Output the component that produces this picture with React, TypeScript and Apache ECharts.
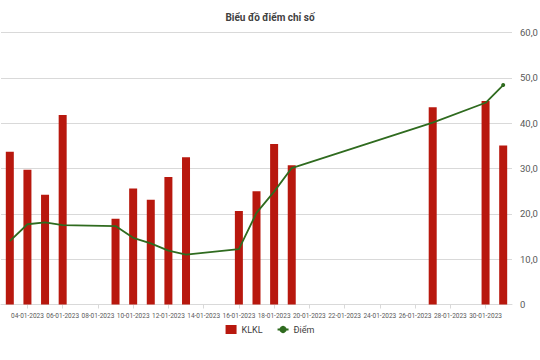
import React, { useEffect, useRef } from "react";
import * as echarts from "echarts";

const categories = [
  "03-01-2023", "04-01-2023", "05-01-2023", "06-01-2023", "07-01-2023", "08-01-2023",
  "09-01-2023", "10-01-2023", "11-01-2023", "12-01-2023", "13-01-2023", "14-01-2023",
  "15-01-2023", "16-01-2023", "17-01-2023", "18-01-2023", "19-01-2023", "20-01-2023",
  "21-01-2023", "22-01-2023", "23-01-2023", "24-01-2023", "25-01-2023", "26-01-2023",
  "27-01-2023", "28-01-2023", "29-01-2023", "30-01-2023", "31-01-2023",
];

const klkl: (number | null)[] = [
  33.7, 29.7, 24.2, 41.8, null, null,
  18.9, 25.6, 23.1, 28.1, 32.5, null,
  null, 20.6, 25.0, 35.4, 30.7, null,
  null, null, null, null, null, null,
  43.5, null, null, 44.9, 35.1,
];

const diem: (number | null)[] = [
  14.0, 17.7, 18.1, 17.5, null, null,
  17.3, 14.7, 13.5, 11.9, 11.0, null,
  null, 12.2, 20.2, 24.9, 30.1, null,
  null, null, null, null, null, null,
  40.1, null, null, 44.5, 48.4,
];

const yTicks = [0, 10, 20, 30, 40, 50, 60];

const FONT = 'Roboto, "Liberation Sans", sans-serif';

export default function App() {
  const ref = useRef<HTMLDivElement>(null);

  useEffect(() => {
    if (!ref.current) return;
    document.body.style.margin = "0";
    const chart = echarts.init(ref.current, null, { renderer: "svg" });
    const lastIdx = diem.length - 1;
    chart.setOption({
      animation: false,
      backgroundColor: "#ffffff",
      textStyle: { fontFamily: FONT },
      title: {
        text: "Biểu đồ điểm chỉ số",
        left: "center",
        top: 7,
        textStyle: { fontSize: 10, fontWeight: "bold", color: "#404040", fontFamily: FONT },
      },
      legend: {
        top: 320,
        left: "center",
        itemWidth: 11,
        itemHeight: 9,
        itemGap: 14,
        textStyle: { fontSize: 9, color: "#404040", fontFamily: FONT },
        data: [
          { name: "KLKL", icon: "rect" },
          { name: "Điểm", itemStyle: { borderWidth: 0 } },
        ],
      },
      grid: {
        left: 1,
        right: 28,
        top: 32.5,
        bottom: 55.5,
        containLabel: false,
        outerBoundsMode: "none",
      },
      xAxis: {
        type: "category",
        data: categories,
        boundaryGap: true,
        axisLine: { lineStyle: { color: "#d9d9d9" } },
        axisTick: {
          show: true,
          alignWithLabel: true,
          interval: (i: number) => i % 2 === 1,
          length: 4,
          lineStyle: { color: "#d9d9d9" },
        },
        axisLabel: {
          interval: (i: number) => i % 2 === 1,
          fontSize: 6.5,
          color: "#595959",
          margin: 8,
          fontFamily: FONT,
        },
      },
      yAxis: {
        type: "value",
        position: "right",
        min: yTicks[0],
        max: yTicks[yTicks.length - 1],
        interval: 10,
        axisLine: { show: false },
        axisTick: { show: false },
        splitLine: { lineStyle: { color: "#d9d9d9" } },
        axisLabel: {
          margin: 8,
          fontSize: 9.5,
          color: "#595959",
          fontFamily: FONT,
          formatter: (v: number) => (v === 0 ? "0" : v.toFixed(1).replace(".", ",")),
        },
      },
      series: [
        {
          name: "KLKL",
          type: "bar",
          data: klkl,
          barWidth: 8,
          itemStyle: { color: "#b8180e" },
        },
        {
          name: "Điểm",
          type: "line",
          data: diem.map((v, i) => ({
            value: v,
            symbolSize: i === lastIdx ? 4 : 0,
          })),
          connectNulls: true,
          symbol: "circle",
          symbolSize: 4,
          showSymbol: true,
          lineStyle: { color: "#2f6b1f", width: 1.8 },
          itemStyle: { color: "#2f6b1f" },
        },
      ],
    });
    return () => chart.dispose();
  }, []);

  return <div ref={ref} style={{ width: 540, height: 360 }} />;
}
